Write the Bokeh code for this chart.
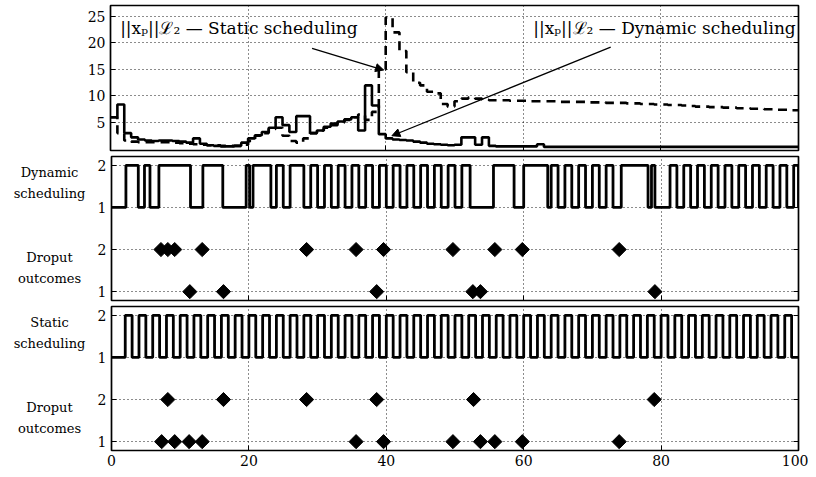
from bokeh.plotting import figure
from bokeh.layouts import column, row
from bokeh.models import Range1d, FixedTicker, Label, Arrow, NormalHead, LinearAxis
from bokeh.embed import file_html
from bokeh.resources import INLINE

# ---------------- data ----------------
norm_t = [0, 1, 2, 3, 4, 5, 6, 7, 8, 9, 10, 11, 12, 13, 14, 15, 16, 17, 18, 19,
          20, 21, 22, 23, 24, 25, 26, 27, 28, 29, 30, 31, 32, 33, 34, 35, 36, 37, 38, 39,
          40, 41, 42, 43, 44, 45, 46, 47, 48, 49, 50, 51, 52, 53, 54, 55, 56, 57, 58, 59,
          60, 61, 62, 63, 64, 65, 66, 67, 68, 69, 70, 71, 72, 73, 74, 75, 76, 77, 78, 79,
          80, 81, 82, 83, 84, 85, 86, 87, 88, 89, 90, 91, 92, 93, 94, 95, 96, 97, 98, 99, 100]
norm_dynamic = [6.0, 8.4, 3.0, 2.2, 1.8, 1.6, 1.5, 1.6, 1.6, 1.5,
                1.4, 1.2, 2.0, 1.0, 0.7, 0.6, 0.5, 0.5, 0.6, 1.2,
                2.0, 2.6, 3.2, 4.0, 6.0, 4.5, 3.2, 6.2, 6.2, 3.0,
                3.5, 4.2, 4.8, 5.2, 5.6, 6.0, 3.5, 12.0, 8.2, 2.8,
                2.0, 1.8, 1.7, 1.6, 1.4, 1.2, 1.0, 0.9, 0.8, 0.7,
                0.8, 2.2, 2.2, 0.8, 2.2, 0.6, 0.5, 0.5, 0.5, 0.5,
                0.5, 0.5, 0.9, 0.4, 0.4, 0.4, 0.4, 0.4, 0.4, 0.4,
                0.4, 0.4, 0.4, 0.4, 0.4, 0.4, 0.4, 0.4, 0.4, 0.4,
                0.4, 0.4, 0.4, 0.4, 0.4, 0.4, 0.4, 0.4, 0.4, 0.4,
                0.4, 0.4, 0.4, 0.4, 0.4, 0.4, 0.4, 0.4, 0.4, 0.4, 0.4]
norm_static = [6.0, 3.0, 1.6, 1.4, 1.3, 1.3, 1.3, 1.3, 1.3, 1.2,
               1.1, 1.0, 0.9, 0.8, 0.7, 0.7, 0.6, 0.6, 0.6, 0.8,
               1.5, 2.5, 3.0, 3.8, 4.0, 2.5, 1.5, 1.2, 2.0, 3.0,
               3.5, 4.0, 4.5, 5.0, 5.5, 6.0, 6.5, 5.5, 7.0, 15.0,
               24.8, 22.0, 18.5, 14.5, 12.5, 12.0, 10.8, 10.5, 8.5, 8.0,
               9.0, 9.5, 9.7, 9.5, 9.3, 9.2, 9.2, 9.2, 9.1, 9.1,
               9.1, 9.0, 9.0, 9.0, 9.0, 8.9, 8.9, 8.9, 8.9, 8.8,
               8.8, 8.8, 8.7, 8.7, 8.7, 8.6, 8.6, 8.5, 8.5, 8.4,
               8.4, 8.3, 8.3, 8.2, 8.1, 8.0, 8.0, 7.9, 7.9, 7.8,
               7.8, 7.7, 7.7, 7.6, 7.6, 7.5, 7.5, 7.4, 7.4, 7.3, 7.3]

dyn_sched_t = [0, 2.1, 3.9, 4.8, 5.6, 6.9, 11.5, 13.3, 16.2, 19.6, 20.1, 20.6, 23.2, 24, 25, 26, 28,
               29, 30, 31, 32, 33, 34, 35, 36, 37, 38, 39, 40, 41, 42, 43, 44, 45, 46, 47, 48, 49,
               50, 51, 52.2, 55.6, 58.6, 60.0, 63.5, 64, 65, 66, 67, 68, 69, 70, 71, 72,
               73, 74.2, 78.1, 78.6, 79.1, 81.3, 82.3, 83.3, 84.3, 85.3, 86.3, 87.3, 88.3, 89.3, 90.3,
               91.3, 92.3, 93.3, 94.3, 95.3, 96.3, 97.3, 98.3, 99.3, 100]
dyn_sched_v = [1, 2, 1, 2, 1, 2, 1, 2, 1, 2, 1, 2, 1, 2, 1, 2, 1,
               2, 1, 2, 1, 2, 1, 2, 1, 2, 1, 2, 1, 2, 1, 2, 1, 2, 1, 2, 1, 2,
               1, 2, 1, 2, 1, 2, 1, 2, 1, 2, 1, 2, 1, 2, 1, 2,
               1, 2, 1, 2, 1, 2, 1, 2, 1, 2, 1, 2, 1, 2, 1, 2,
               1, 2, 1, 2, 1, 2, 1, 2, 1, 1]

static_sched_t = [0, 2, 3, 4, 5, 6, 7, 8, 9, 10, 11, 12, 13, 14, 15, 16, 17, 18, 19,
                  20, 21, 22, 23, 24, 25, 26, 27, 28, 29, 30, 31, 32, 33, 34, 35, 36, 37, 38, 39,
                  40, 41, 42, 43, 44, 45, 46, 47, 48, 49, 50, 51, 52, 53, 54, 55, 56, 57, 58, 59,
                  60, 61, 62, 63, 64, 65, 66, 67, 68, 69, 70, 71, 72, 73, 74, 75, 76, 77, 78, 79,
                  80, 81, 82, 83, 84, 85, 86, 87, 88, 89, 90, 91, 92, 93, 94, 95, 96, 97, 98, 99, 100]
static_sched_v = [1, 2, 1, 2, 1, 2, 1, 2, 1, 2, 1, 2, 1, 2, 1, 2, 1, 2, 1,
                  2, 1, 2, 1, 2, 1, 2, 1, 2, 1, 2, 1, 2, 1, 2, 1, 2, 1, 2, 1,
                  2, 1, 2, 1, 2, 1, 2, 1, 2, 1, 2, 1, 2, 1, 2, 1, 2, 1, 2, 1,
                  2, 1, 2, 1, 2, 1, 2, 1, 2, 1, 2, 1, 2, 1, 2, 1, 2, 1, 2, 1,
                  2, 1, 2, 1, 2, 1, 2, 1, 2, 1, 2, 1, 2, 1, 2, 1, 2, 1, 2, 1, 1]

dyn_drop_t = [7.2, 8.2, 9.2, 11.4, 13.2, 16.3, 28.4, 35.6, 38.6, 39.6,
              49.7, 52.6, 53.7, 55.8, 59.8, 73.9, 79.1]
dyn_drop_v = [2, 2, 2, 1, 2, 1, 2, 2, 1, 2,
              2, 1, 1, 2, 2, 2, 1]
st_drop_t = [7.3, 8.2, 9.2, 11.3, 13.2, 16.3, 28.4, 35.6, 38.6, 39.6,
             49.7, 52.7, 53.7, 55.8, 59.8, 73.9, 79.0]
st_drop_v = [1, 2, 1, 1, 1, 2, 2, 1, 2, 1,
             1, 2, 1, 1, 1, 1, 2]

sched_tick_labels = {1: "1", 2: "2", 3: "1", 4: "2"}
norm_ticks = [5, 10, 15, 20, 25]
x_ticks = [0, 20, 40, 60, 80, 100]

# ---------------- style ----------------
FONT = "DejaVu Serif"
TICK_FS = "14px"
SIDE_FS = "13px"
ANN_FS = "17px"
LAB_W = 94          # width of side-label strip
FRAME_W = 688
RIGHT = 10

x_range = Range1d(0, 100)


def blank_axis(ticks):
    return LinearAxis(ticker=FixedTicker(ticks=ticks),
                      major_label_overrides={t: "" for t in ticks},
                      major_label_text_font_size="0px", major_label_standoff=0,
                      major_tick_in=5, major_tick_out=0, axis_line_color=None,
                      minor_tick_line_color=None, major_tick_line_color="black")


def style_fig(p, ticks, overrides=None, show_x_labels=True):
    p.outline_line_color = "black"
    p.outline_line_width = 1.7
    p.yaxis.ticker = FixedTicker(ticks=ticks)
    if overrides:
        p.yaxis.major_label_overrides = overrides
    p.xaxis.ticker = FixedTicker(ticks=x_ticks)
    for ax in (p.xaxis[0], p.yaxis[0]):
        ax.major_tick_in = 5
        ax.major_tick_out = 0
        ax.minor_tick_line_color = None
        ax.axis_line_color = None
        ax.major_tick_line_color = "black"
        ax.major_label_text_font = FONT
        ax.major_label_text_font_size = TICK_FS
        ax.major_label_text_color = "black"
    p.yaxis.major_label_standoff = 5
    if not show_x_labels:
        p.xaxis.major_label_overrides = {t: "" for t in x_ticks}
        p.xaxis.major_label_text_font_size = "0px"
        p.xaxis.major_label_standoff = 0
    p.add_layout(blank_axis(ticks), "right")
    p.xgrid.ticker = FixedTicker(ticks=[20, 40, 60, 80])
    p.ygrid.ticker = FixedTicker(ticks=ticks)
    for g in (p.xgrid[0], p.ygrid[0]):
        g.grid_line_color = "black"
        g.grid_line_dash = "1 3"
        g.grid_line_width = 1
        g.grid_line_alpha = 0.9


def side_fig(height, top, bottom, y_range, first_word):
    s = figure(width=LAB_W, height=height, x_range=Range1d(0, LAB_W), y_range=y_range,
               output_backend="svg", toolbar_location=None,
               min_border_left=0, min_border_right=0,
               min_border_top=top, min_border_bottom=bottom)
    s.axis.visible = False
    s.grid.visible = False
    s.outline_line_color = None
    s.text(x=[49, 49, 49, 49], y=[3.84, 3.34, 1.82, 1.32],
           text=[first_word, "scheduling", "Droput", "outcomes"],
           text_font={"value": FONT}, text_font_size=SIDE_FS,
           text_align="center", text_baseline="middle", text_color="black")
    return s


# ---- top panel ----
p1 = figure(width=110 + FRAME_W + RIGHT, height=153, x_range=x_range,
            y_range=Range1d(-0.28, 27.07), output_backend="svg", toolbar_location=None,
            min_border_left=110, min_border_right=RIGHT, min_border_top=5,
            min_border_bottom=3)
style_fig(p1, norm_ticks, show_x_labels=False)
p1.step(norm_t, norm_static, mode="after", line_color="black", line_width=2.6,
        line_dash="9 6")
p1.step(norm_t, norm_dynamic, mode="after", line_color="black", line_width=2.6)

p1.add_layout(Label(x=1.4, y=22.8, text="||xₚ||ℒ₂ — Static scheduling",
                    text_font=FONT, text_font_size=ANN_FS, text_baseline="middle",
                    text_align="left", text_color="black"))
p1.add_layout(Label(x=99.6, y=22.8, text="||xₚ||ℒ₂ — Dynamic scheduling",
                    text_font=FONT, text_font_size=ANN_FS, text_baseline="middle",
                    text_align="right", text_color="black"))
p1.add_layout(Arrow(end=NormalHead(size=8, fill_color="black", line_color="black"),
                    x_start=29.3, y_start=19.0, x_end=39.7, y_end=14.9,
                    line_color="black", line_width=1.3))
p1.add_layout(Arrow(end=NormalHead(size=8, fill_color="black", line_color="black"),
                    x_start=72.7, y_start=19.2, x_end=40.9, y_end=2.5,
                    line_color="black", line_width=1.3))

# ---- middle panel ----
yr2 = Range1d(0.79, 4.21)
p2 = figure(width=110 - LAB_W + FRAME_W + RIGHT, height=150, x_range=x_range, y_range=yr2,
            output_backend="svg", toolbar_location=None,
            min_border_left=110 - LAB_W, min_border_right=RIGHT, min_border_top=3,
            min_border_bottom=3)
style_fig(p2, [1, 2, 3, 4], sched_tick_labels, show_x_labels=False)
p2.step(dyn_sched_t, [v + 2 for v in dyn_sched_v], mode="after",
        line_color="black", line_width=2.8)
p2.scatter(dyn_drop_t, dyn_drop_v, marker="square", size=10, angle=0.785398,
           fill_color="black", line_color="black")
s2 = side_fig(150, 3, 3, yr2, "Dynamic")

# ---- bottom panel ----
yr3 = Range1d(0.79, 4.21)
p3 = figure(width=110 - LAB_W + FRAME_W + RIGHT, height=169, x_range=x_range, y_range=yr3,
            output_backend="svg", toolbar_location=None,
            min_border_left=110 - LAB_W, min_border_right=RIGHT, min_border_top=3,
            min_border_bottom=22)
style_fig(p3, [1, 2, 3, 4], sched_tick_labels)
p3.xaxis.major_label_standoff = 4
p3.step(static_sched_t, [v + 2 for v in static_sched_v], mode="after",
        line_color="black", line_width=2.8)
p3.scatter(st_drop_t, st_drop_v, marker="square", size=10, angle=0.785398,
           fill_color="black", line_color="black")
s3 = side_fig(169, 3, 22, yr3, "Static")

layout = column(p1, row(s2, p2, spacing=0), row(s3, p3, spacing=0), spacing=0)
open("out.html", "w").write(file_html(layout, INLINE))
